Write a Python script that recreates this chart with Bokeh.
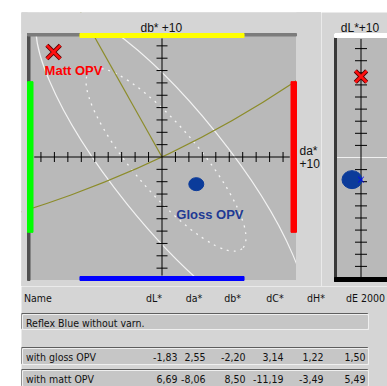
import math
from bokeh.plotting import figure
from bokeh.models import Label, Range1d
from bokeh.layouts import row, column
from bokeh.embed import file_html
from bokeh.resources import INLINE
from bokeh.core.properties import value

# ---------------- data ----------------
reference_name = "Reflex Blue without varn."
sample_names = ["with gloss OPV", "with matt OPV"]
sample_labels = ["Gloss OPV", "Matt OPV"]
column_names = ["dL*", "da*", "db*", "dC*", "dH*", "dE 2000"]
dL = [-1.83, 6.69]
da = [2.55, -8.06]
db = [-2.20, 8.50]
dC = [3.14, -11.19]
dH = [1.22, -3.49]
dE2000 = [1.50, 5.49]

axis_limit = 10
tick_values = [-9, -8, -7, -6, -5, -4, -3, -2, -1, 1, 2, 3, 4, 5, 6, 7, 8, 9]
tolerance_ab = 6.1
reference_a = 34.35      # reference a* (neutral point lies at -a, -b)
reference_b = -66.6      # reference b*
# tolerance ellipses in da/db: centre, full width, full height, angle (deg)
outer_ellipse = [0.68, -0.88, 30.3, 9.24, -51.2]
inner_ellipse = [0.30, -0.22, 17.4, 5.3, -49.5]

# ---------------- style ----------------
OUTER = "#d5d5d5"
FRAME = "#b9b9b9"
OLIVE = "#8c8c2a"
SANS = "Liberation Sans"
NARROW = "Liberation Sans Narrow, DejaVu Sans Condensed, Liberation Sans"

def base_fig(**kw):
    p = figure(output_backend="svg", toolbar_location=None, title=None,
               x_axis_location=None, y_axis_location=None, min_border=0,
               background_fill_color=OUTER, border_fill_color=OUTER,
               outline_line_color=None, **kw)
    p.xgrid.visible = False
    p.ygrid.visible = False
    return p

def lab(p, x, y, text, dx=0, dy=0, align="left", size="12px", bold=False, color="#111111"):
    p.add_layout(Label(x=x, y=y, text=text, x_offset=dx, y_offset=dy, text_align=align,
                       text_baseline="middle", text_font=SANS,
                       text_font_style="bold" if bold else "normal",
                       text_font_size=size, text_color=color))

# ---------------- main a*/b* panel ----------------
L = axis_limit
SX = 269 / (2 * L)     # px per unit
SY = 247 / (2 * L)
mx = Range1d(-L - 6 / SX, L + 25 / SX)
my = Range1d(-L - 6 / SY, L + 21 / SY)
main = base_fig(width=300, height=274, x_range=mx, y_range=my)

main.quad(left=[-L], right=[L], bottom=[-L], top=[L], color=FRAME)

main.ellipse(x=[outer_ellipse[0]], y=[outer_ellipse[1]], width=[outer_ellipse[2]],
             height=[outer_ellipse[3]], angle=[math.radians(outer_ellipse[4])],
             fill_color=None, line_color="#f2f2f2", line_width=1.2)
main.ellipse(x=[inner_ellipse[0]], y=[inner_ellipse[1]], width=[inner_ellipse[2]],
             height=[inner_ellipse[3]], angle=[math.radians(inner_ellipse[4])],
             fill_color=None, line_color="#f4f4f4", line_width=1.3, line_dash="2 5")

chroma = math.hypot(reference_a, reference_b)
main.segment(x0=[0], y0=[0], x1=[-reference_a], y1=[-reference_b], line_color=OLIVE, line_width=1.2)
main.ellipse(x=[-reference_a], y=[-reference_b], width=[2 * chroma], height=[2 * chroma],
             fill_color=None, line_color=OLIVE, line_width=1.2)

# mask everything outside the plot area
main.quad(left=[mx.start, L, mx.start, mx.start], right=[-L, mx.end, mx.end, mx.end],
          bottom=[my.start, my.start, L, my.start], top=[my.end, my.end, my.end, -L],
          color=OUTER)

main.segment(x0=[-9.5, 0], y0=[0, -9.6], x1=[9.5, 0], y1=[0, 9.6], line_color="black", line_width=1)
main.scatter(x=tick_values, y=[0] * len(tick_values), marker="dash", size=10,
             angle=math.pi / 2, line_color="black", line_width=1)
main.scatter(x=[0] * len(tick_values), y=tick_values, marker="dash", size=11,
             line_color="black", line_width=1)

main.quad(left=[-L], right=[-L + 2.5 / SX], bottom=[-L], top=[L], color="#505050")
main.quad(left=[-L], right=[L], bottom=[L - 2.5 / SY], top=[L], color="#7c7c7c")
main.quad(left=[-L], right=[-L + 5.5 / SX], bottom=[-tolerance_ab], top=[tolerance_ab], color="#00ff00")
main.quad(left=[L - 5.5 / SX], right=[L], bottom=[-tolerance_ab], top=[tolerance_ab], color="#ff0000")
main.quad(left=[-tolerance_ab], right=[tolerance_ab], bottom=[L - 4 / SY], top=[L], color="#ffff00")
main.quad(left=[-tolerance_ab], right=[tolerance_ab], bottom=[-L], top=[-L + 4 / SY], color="#0000ff")

main.ellipse(x=[da[0]], y=[db[0]], width=[15], height=[13], width_units="screen",
             height_units="screen", color="#0b3b9a")
main.scatter(x=[da[1]], y=[db[1]], marker="x", size=19, line_color="#5a0000", line_width=4.4)
main.scatter(x=[da[1]], y=[db[1]], marker="x", size=19, line_color="#ff1010", line_width=2.6)

lab(main, da[1], db[1], sample_labels[1], dx=-9, dy=-18, size="13px", bold=True, color="#ff0000")
lab(main, da[0], db[0], sample_labels[0], dx=-20, dy=-30, size="13px", bold=True, color="#1e3a94")
lab(main, 0, L, "db*  +10", dx=1, dy=6, align="center")
lab(main, L, 0, "da*", dx=3, dy=6)
lab(main, L, 0, "+10", dx=3, dy=-6)

# ---------------- dL* side panel ----------------
LS = 10.25
SYS = 248 / (2 * LS)
SXS = 53 / 2
sxr = Range1d(-1 - 13 / SXS, 1)
syr = Range1d(-LS - 5 / SYS, LS + 21 / SYS)
side = base_fig(width=66, height=274, x_range=sxr, y_range=syr)
side.quad(left=[-1], right=[1], bottom=[-LS], top=[LS], color=FRAME)
side.segment(x0=[-1], y0=[0], x1=[1], y1=[0], line_color="#f0f0f0", line_width=1.2)
side.quad(left=[-1], right=[-1 + 2 / SXS], bottom=[-LS], top=[LS], color="#383838")
side.quad(left=[-1], right=[1], bottom=[LS - 4 / SYS], top=[LS], color="#ffffff")
side.quad(left=[-1], right=[1], bottom=[-LS], top=[-LS + 4 / SYS], color="#000000")
side.segment(x0=[0], y0=[-10], x1=[0], y1=[9.8], line_color="black", line_width=1)
side.scatter(x=[0] * len(tick_values), y=tick_values, marker="dash", size=12,
             line_color="black", line_width=1)
side.ellipse(x=[-9 / SXS], y=[dL[0]], width=[20], height=[18], width_units="screen",
             height_units="screen", color="#0b3b9a")
side.scatter(x=[0], y=[dL[0]], marker="x", size=8, line_color="#0000ff", line_width=1)
side.scatter(x=[0], y=[dL[1]], marker="x", size=16, line_color="#5a0000", line_width=4.4)
side.scatter(x=[0], y=[dL[1]], marker="x", size=16, line_color="#ff1010", line_width=2.6)
lab(side, 0, LS, "dL*+10", dx=-1, dy=6, align="center")

# ---------------- table ----------------
table = base_fig(width=366, height=100, x_range=Range1d(0, 366), y_range=Range1d(100, 0))

box_top = [27, 61, 83]
box_bot = [43, 78, 100]
box_right = 347
for t, b in zip(box_top, box_bot):
    table.quad(left=[0], right=[box_right - 1], top=[t], bottom=[b - 1], color="#5e5e5e")
    table.quad(left=[1], right=[box_right], top=[t + 1], bottom=[b], color="#efefef")
    table.quad(left=[2], right=[box_right - 1], top=[t + 2], bottom=[b - 1], color="#c6c6c6")

header_y = 11
header_x = [132.5, 172.5, 211, 253.5, 294.5, 344]
value_x = [156, 184, 224, 262, 302, 344]
row_text_y = [36, 70, 92]

txt = dict(text_font=value(NARROW), text_font_size="10.5px", text_color="#111111",
           text_baseline="middle")
table.text(x=[2.5], y=[header_y], text=["Name"], text_align="left", **txt)
table.text(x=header_x, y=[header_y] * len(column_names), text=column_names,
           text_align="center", **txt)
table.text(x=[4.5, 4.5, 4.5], y=row_text_y, text=[reference_name] + sample_names,
           text_align="left", **txt)

series = [dL, da, db, dC, dH, dE2000]
for i in range(len(sample_names)):
    vals = [("%.2f" % s[i]).replace(".", ",") for s in series]
    table.text(x=value_x, y=[row_text_y[i + 1]] * len(vals), text=vals,
               text_align="right", **txt)

layout = column(row(main, side), table, margin=(12, 0, 0, 21))

open("out.html", "w").write(file_html(layout, INLINE))
